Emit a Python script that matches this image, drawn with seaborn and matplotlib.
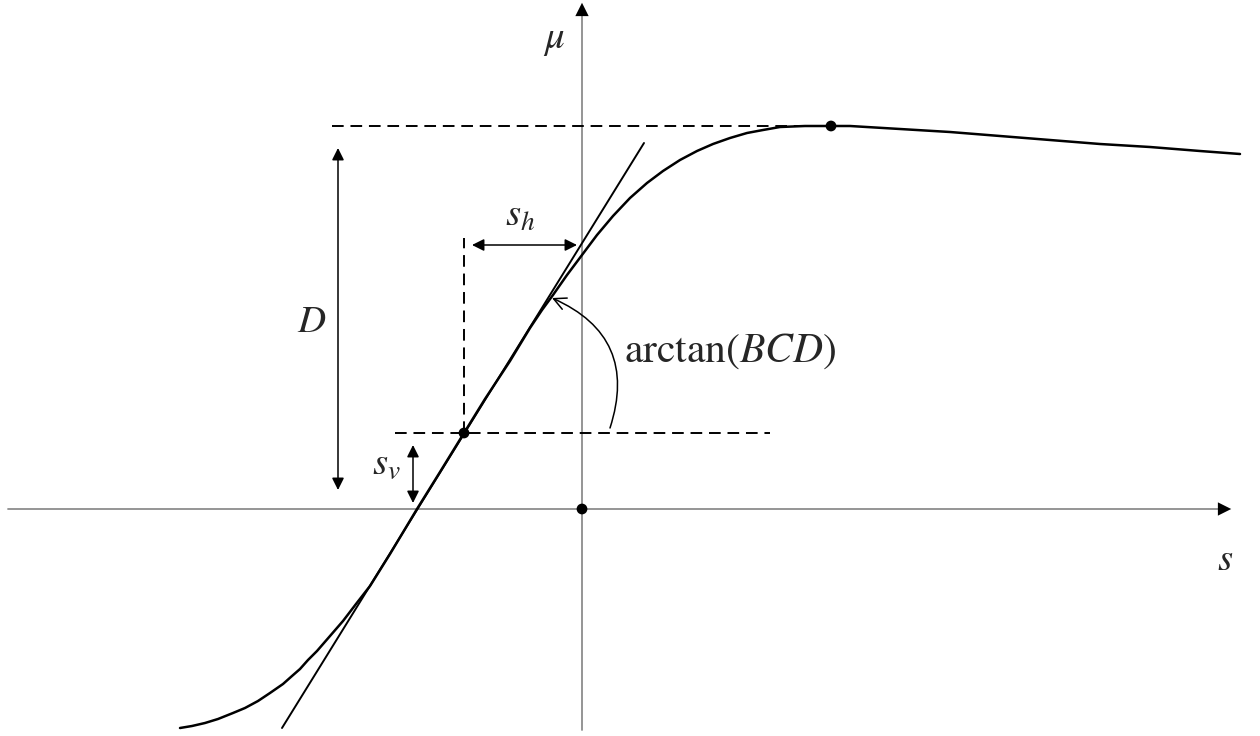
import numpy as np
import pandas as pd
import matplotlib
matplotlib.use("Agg")
import matplotlib.pyplot as plt
import seaborn as sns

# slip s vs friction coefficient mu (origin at the axis crossing)
curve_s = [-402, -390, -377, -364, -349, -337, -324, -312, -299, -290, -282, -274,
           -265, -252, -239, -226, -212, -192, -165, -142, -118, -97, -72, -52, -40,
           -29, -15, 0, 15, 31, 48, 65, 81, 98, 115, 131, 148, 165, 181, 198, 223,
           249, 268, 318, 368, 418, 468, 518, 568, 618, 658]
curve_mu = [-219, -217, -214, -210, -204, -199, -192, -184, -175, -167, -160, -151,
            -142, -127, -112, -95, -77, -45, 0, 37, 76, 110, 148, 181, 199,
            214, 234, 254, 274, 293, 311, 326, 338, 349, 358, 365, 371, 376, 379, 382, 383,
            383, 383, 380, 377, 373, 369, 365, 362, 358, 355]

tangent_s = [-300, 62]
tangent_mu = [-219, 366]

peak = (249, 383)
inflection = (-118, 76)
origin = (0, 0)

D_span = (19, 361)
sv_span = (6, 64)
sh_span = (-110, -5)

sns.set_theme(style="white")
plt.rcParams["mathtext.fontset"] = "stix"
plt.rcParams["font.family"] = ["STIXGeneral", "DejaVu Serif"]

fig = plt.figure(figsize=(12.6, 7.36), dpi=100)
ax = fig.add_axes([0, 0, 1, 1])
ax.set_xlim(-582, 678)
ax.set_ylim(-227, 509)

axis_col = "#8c8c8c"
# coordinate axes: grey shaft, black head
ax.plot([-574, 640], [0, 0], color=axis_col, lw=1.3, zorder=1)
ax.plot([0, 0], [-221, 495], color=axis_col, lw=1.3, zorder=1)
head = dict(arrowstyle="-|>", color="black", lw=0, mutation_scale=24)
ax.annotate("", xy=(652, 0), xytext=(628, 0), arrowprops=head, annotation_clip=False)
ax.annotate("", xy=(0, 509), xytext=(0, 485), arrowprops=head, annotation_clip=False)

# dashed helper lines
dash = dict(color="black", lw=1.4, dashes=(6, 3.5), zorder=2)
ax.plot([-250, peak[0]], [peak[1], peak[1]], **dash)
ax.plot([-187, 188], [inflection[1], inflection[1]], **dash)
ax.plot([inflection[0], inflection[0]], [inflection[1], 271], **dash)

df = pd.DataFrame({"s": curve_s, "mu": curve_mu})
sns.lineplot(data=df, x="s", y="mu", sort=False, color="black", lw=1.8, ax=ax, zorder=3)
sns.lineplot(x=tangent_s, y=tangent_mu, sort=False, color="black", lw=1.4, ax=ax, zorder=3)

dots = pd.DataFrame({"s": [peak[0], inflection[0], origin[0]],
                     "mu": [peak[1], inflection[1], origin[1]]})
sns.scatterplot(data=dots, x="s", y="mu", color="black", s=60, ax=ax, zorder=4, edgecolor="none")
ax.axis("off")

# dimension arrows
dbl = dict(arrowstyle="<|-|>", color="black", lw=1.1, mutation_scale=18, shrinkA=0, shrinkB=0)
ax.annotate("", xy=(-244, D_span[1]), xytext=(-244, D_span[0]), arrowprops=dbl)
ax.annotate("", xy=(-169, sv_span[1]), xytext=(-169, sv_span[0]), arrowprops=dbl)
ax.annotate("", xy=(sh_span[0], 264), xytext=(sh_span[1], 264), arrowprops=dbl)

# curved arrow for the slope angle
ax.annotate("", xy=(-30, 211), xytext=(28, 81),
            arrowprops=dict(arrowstyle="->", color="black", lw=1.1, mutation_scale=22,
                            shrinkA=0, shrinkB=0, connectionstyle="arc3,rad=0.45"))

fs = 28
ax.text(-28, 468, r"$\mu$", fontsize=fs, ha="center", va="center")
ax.text(643, -52, r"$s$", fontsize=fs, ha="center", va="center")
ax.text(-270, 186, r"$D$", fontsize=fs, ha="center", va="center")
ax.text(-196, 44, r"$s_v$", fontsize=fs, ha="center", va="center")
ax.text(-62, 292, r"$s_h$", fontsize=fs, ha="center", va="center")
ax.text(148, 158, r"$\mathrm{arctan}(BCD)$", fontsize=30, ha="center", va="center")

fig.savefig("out.png", dpi=100, facecolor="white")
